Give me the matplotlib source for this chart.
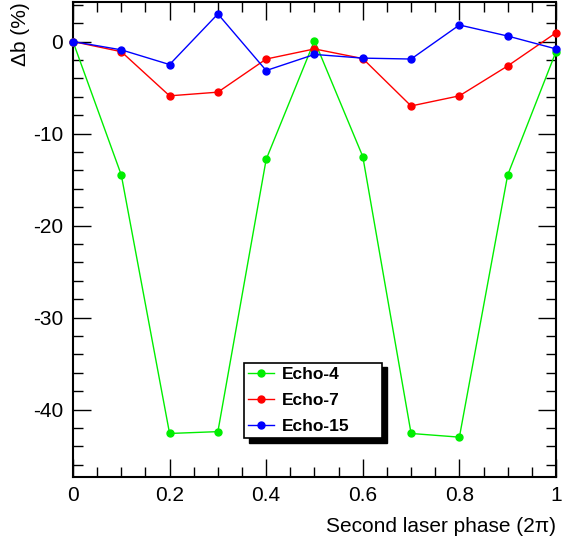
import matplotlib
matplotlib.use("Agg")
import matplotlib.pyplot as plt
from matplotlib.ticker import MultipleLocator
from matplotlib.patches import Rectangle

plt.rcParams["font.family"] = ["Liberation Sans", "DejaVu Sans"]
plt.rcParams["axes.unicode_minus"] = False

phase = [0.0, 0.1, 0.2, 0.3, 0.4, 0.5, 0.6, 0.7, 0.8, 0.9, 1.0]
echo4 = [0.0, -14.5, -42.6, -42.4, -12.8, 0.1, -12.5, -42.6, -43.0, -14.5, -1.1]
echo7 = [0.0, -1.1, -5.9, -5.5, -1.9, -0.8, -1.85, -7.0, -5.9, -2.65, 0.95]
echo15 = [0.0, -0.9, -2.5, 3.0, -3.15, -1.4, -1.8, -1.9, 1.8, 0.6, -0.8]

series = [
    ("Echo-4", echo4, "#00ee00"),
    ("Echo-7", echo7, "#ff0000"),
    ("Echo-15", echo15, "#0000ff"),
]

fig = plt.figure(figsize=(5.64, 5.40), dpi=100)
ax = fig.add_axes([0.1294, 0.1172, 0.8564, 0.8791])

for name, values, color in series:
    ax.plot(phase, values, color=color, lw=1.0, marker="o", ms=5,
            mec=color, mfc=color, label=name, clip_on=False, zorder=3)

ax.set_xlim(0, 1)
ax.set_ylim(-47.3, 4.3)
ax.xaxis.set_major_locator(MultipleLocator(0.2))
ax.xaxis.set_minor_locator(MultipleLocator(0.05))
ax.yaxis.set_major_locator(MultipleLocator(10))
ax.yaxis.set_minor_locator(MultipleLocator(2))
ax.set_xticks([0, 0.2, 0.4, 0.6, 0.8, 1.0])
ax.set_xticklabels(["0", "0.2", "0.4", "0.6", "0.8", "1"])
ax.tick_params(which="both", direction="in", top=True, right=True, labelsize=15, width=1.0)
ax.tick_params(which="major", length=13, pad=7)
ax.tick_params(which="minor", length=7)
for side in ax.spines.values():
    side.set_linewidth(1.5)

ax.set_xlabel("Second laser phase (2π)", fontsize=15, loc="right", labelpad=8)
ax.set_ylabel("Δb (%)", fontsize=15, loc="top", labelpad=2)

# legend with ROOT-style drop shadow
lx0, ly0, lw, lh = 244 / 564, 1 - 438 / 540, 138 / 564, 76 / 540
shadow = Rectangle((lx0 + 5 / 564, ly0 - 5 / 540), lw, lh, transform=fig.transFigure,
                   facecolor="black", edgecolor="black", zorder=8, clip_on=False)
ax.add_patch(shadow)
leg = ax.legend(loc="lower left", bbox_to_anchor=(lx0, ly0, lw, lh), bbox_transform=fig.transFigure,
                mode="expand", frameon=True, fancybox=False, framealpha=1, edgecolor="black",
                prop={"weight": "bold", "size": 12.5}, handlelength=1.5, borderaxespad=0,
                labelspacing=0.64, borderpad=0.22, handletextpad=0.45, markerscale=1.0)
leg.get_frame().set_linewidth(1.2)
leg.set_zorder(10)

fig.savefig("out.png", dpi=100)
